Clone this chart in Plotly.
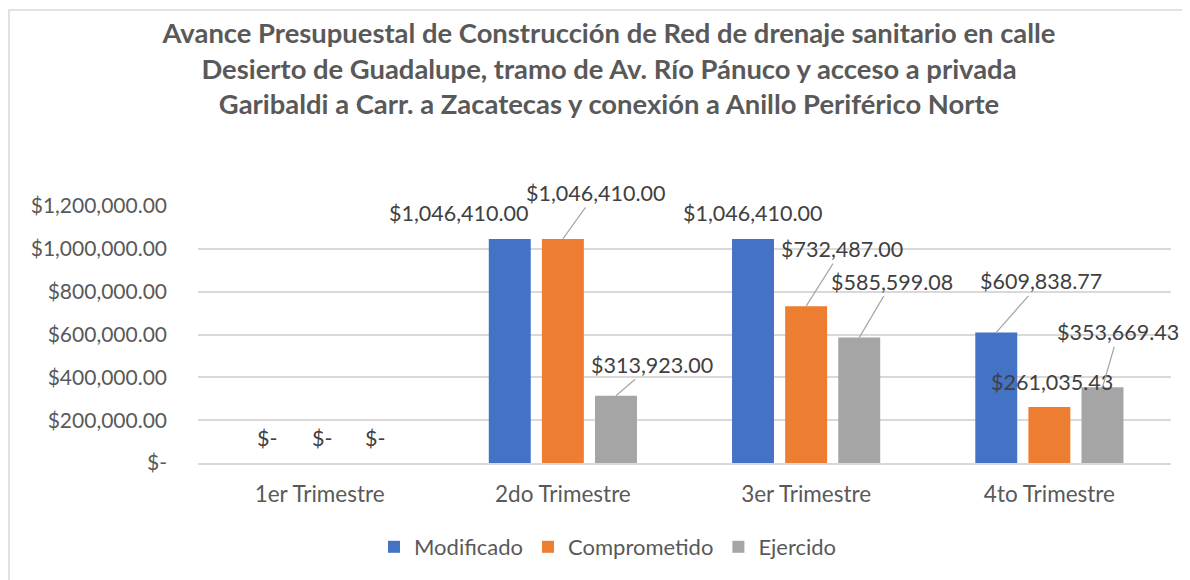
import plotly.graph_objects as go

# ---- data ----
categories = ["1er Trimestre", "2do Trimestre", "3er Trimestre", "4to Trimestre"]
series_names = ["Modificado", "Comprometido", "Ejercido"]
modificado = [0, 1046410.00, 1046410.00, 609838.77]
comprometido = [0, 1046410.00, 732487.00, 261035.43]
ejercido = [0, 313923.00, 585599.08, 353669.43]
y_tick_vals = [0, 200000, 400000, 600000, 800000, 1000000, 1200000]
title_text = ("Avance Presupuestal de Construcción de Red de drenaje sanitario en calle<br>"
              "Desierto de Guadalupe, tramo de Av. Río Pánuco y acceso a privada<br>"
              "Garibaldi a Carr. a Zacatecas y conexión a Anillo Periférico Norte")

# ---- style ----
colors = ["#4472C4", "#ED7D31", "#A5A5A5"]
FONT = "Lato"
TXT = "#595959"
LBL = "#404040"
GRID = "#D9D9D9"
BARGAP = 0.345
W, H = 1182, 572          # page body has an 8px margin
ML, MT = 190, 198
PW, PH = 973, 257

def money(v):
    if v == 0:
        return "$-"
    return "${:,.2f}".format(v)

y_tick_text = [money(v) for v in y_tick_vals]

fig = go.Figure()
all_series = [modificado, comprometido, ejercido]
for name, vals, col in zip(series_names, all_series, colors):
    fig.add_trace(go.Bar(
        x=categories, y=vals, name=name, marker=dict(color=col, line=dict(width=0)),
    ))

# label placement (pixel offsets from bar top to label centre), per series per category
label_offsets = [
    [(0, -25), (-51, -26), (0, -26), (45, -51)],
    [(2, -25), (33, -46), (36, -57), (3, -25)],
    [(2, -25), (36, -31), (33, -56), (16, -55)],
]
leader = [
    [False, False, False, True],
    [False, True, True, False],
    [False, True, True, True],
]
slot = (1 - BARGAP) / 3
for si, vals in enumerate(all_series):
    for ci, v in enumerate(vals):
        dx, dy = label_offsets[si][ci]
        fig.add_annotation(
            x=ci + (si - 1) * slot, y=v, xref="x", yref="y",
            text=money(v), showarrow=True,
            ax=dx, ay=dy, axref="pixel", ayref="pixel",
            arrowhead=0, arrowwidth=1.2,
            arrowcolor="#A6A6A6" if leader[si][ci] else "rgba(0,0,0,0)",
            font=dict(family=FONT, size=21.5, color=LBL),
            standoff=0, startstandoff=0,
        )

# chart border
fig.add_shape(type="rect", xref="paper", yref="paper",
              x0=(1 - ML) / PW, x1=(W + 20 - ML) / PW,
              y0=-(H + 20 - MT - PH) / PH, y1=(MT + PH - 2) / PH,
              line=dict(color=GRID, width=1.5), fillcolor="rgba(0,0,0,0)", layer="below")

fig.update_layout(
    width=W, height=H,
    margin=dict(l=ML, r=W - ML - PW, t=MT, b=H - MT - PH),
    paper_bgcolor="white", plot_bgcolor="white",
    barmode="group", bargap=BARGAP, bargroupgap=0.21,
    title=dict(text="<b>" + title_text + "</b>", x=601 / W, xanchor="center",
               y=1 - 35 / H, yanchor="middle", yref="container",
               font=dict(family=FONT, size=27.4, color=TXT)),
    legend=dict(orientation="h", x=600 / W, xanchor="center", xref="container",
                y=1 - 539 / H, yanchor="middle", yref="container",
                font=dict(family=FONT, size=22, color=TXT), itemwidth=30),
    showlegend=True,
)
fig.update_xaxes(type="category", showgrid=False, showline=True, linecolor=GRID, linewidth=1.5,
                 tickfont=dict(family=FONT, size=22.5, color=TXT), ticks="",
                 ticklabelstandoff=10, range=[-0.5, 3.5])
fig.update_yaxes(range=[0, 1200000], tickvals=y_tick_vals, ticktext=y_tick_text,
                 showgrid=True, gridcolor=GRID, gridwidth=1.5, zeroline=False,
                 tickfont=dict(family=FONT, size=21, color=TXT), ticks="",
                 ticklabelstandoff=30, showline=False)

fig.write_html("out.html")
